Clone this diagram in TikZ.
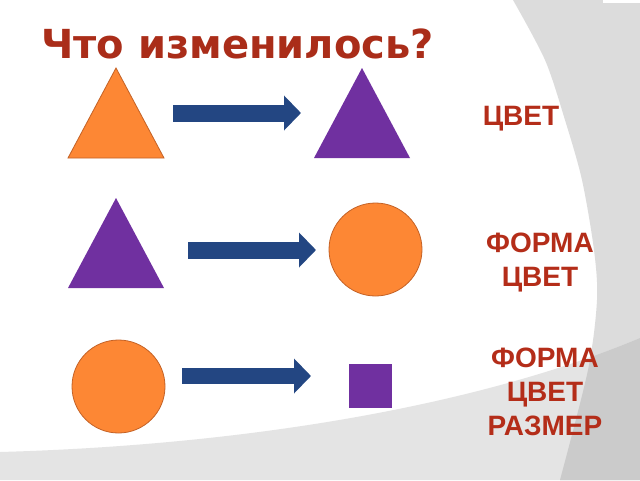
\documentclass[tikz,border=0pt]{standalone}
\usepackage{fontspec}
\setmainfont{Liberation Sans}
\newfontfamily\titlefont{DejaVu Sans}
\usetikzlibrary{shapes.geometric,arrows.meta}
\definecolor{orng}{RGB}{253,135,52}
\definecolor{orngline}{RGB}{196,98,38}
\definecolor{purp}{RGB}{112,48,160}
\definecolor{arrblue}{RGB}{35,70,130}
\definecolor{ttlred}{RGB}{170,45,25}
\definecolor{lblred}{RGB}{180,45,25}
\definecolor{bggrey}{RGB}{220,220,220}
\definecolor{bglow}{RGB}{228,228,228}
\definecolor{bgdark}{RGB}{203,203,203}
\tikzset{
  tri/.style={isosceles triangle, isosceles triangle stretches, shape border rotate=90,
    minimum width=96pt, minimum height=90pt, inner sep=0pt, outer sep=0pt, anchor=apex},
  ring/.style={circle, minimum size=93pt, inner sep=0pt, fill=orng, draw=orngline, line width=0.8pt},
  blk/.style={draw=arrblue, line width=17pt, -{Triangle[length=17pt,width=34pt]}},
  lbl/.style={font=\bfseries\fontsize{28}{34}\selectfont, text=lblred, align=center, anchor=north, inner sep=0pt}
}

\begin{document}
\begin{tikzpicture}[x=1pt,y=-1pt]
\useasboundingbox (0,0) rectangle (640,480);
\fill[white] (0,0) rectangle (640,480);
% background swooshes
\fill[bggrey] plot[smooth] coordinates {(513,0) (545,60) (565,120) (582,180) (594,250) (597,300) (588,370) (560,480)} -- (640,480) -- (640,0) -- cycle;
\fill[bglow] (0,452) .. controls (250,445) and (480,405) .. (640,338) -- (640,480) -- (0,480) -- cycle;
\begin{scope}
\clip plot[smooth] coordinates {(513,0) (545,60) (565,120) (582,180) (594,250) (597,300) (588,370) (560,480)} -- (640,480) -- (640,0) -- cycle;
\fill[bgdark] (0,452) .. controls (250,445) and (480,405) .. (640,338) -- (640,480) -- (0,480) -- cycle;
\end{scope}
\fill[white] (603,0) rectangle (640,3);

\node[anchor=base west, inner sep=0pt, text=ttlred, font=\titlefont\bfseries\fontsize{40}{40}\selectfont] (H) at (41,58) {Что изменилось?};

% row 1
\node[tri, fill=orng, draw=orngline, line width=0.8pt] (T0) at (116,68) {};
\node[tri, fill=purp] (T1) at (362,68) {};
\coordinate (P0) at (173,113);
\coordinate (Q0) at (301,113);
\draw[blk] (P0) -- (Q0);
\node[lbl] (L0) at (521,106) {ЦВЕТ};

% row 2
\node[tri, fill=purp] (T2) at (116,198) {};
\node[ring] (C0) at (375.5,249.5) {};
\coordinate (P1) at (188,250);
\coordinate (Q1) at (316,250);
\draw[blk] (P1) -- (Q1);
\node[lbl] (L1) at (540,233) {ФОРМА\\ЦВЕТ};

% row 3
\node[ring] (C1) at (118.5,386.5) {};
\node[rectangle, fill=purp, minimum width=43pt, minimum height=44pt, inner sep=0pt] (S0) at (370.5,386) {};
\coordinate (P2) at (182,376);
\coordinate (Q2) at (311,376);
\draw[blk, line width=16pt] (P2) -- (Q2);
\node[lbl] (L2) at (545,348) {ФОРМА\\ЦВЕТ\\РАЗМЕР};
\end{tikzpicture}
\end{document}
